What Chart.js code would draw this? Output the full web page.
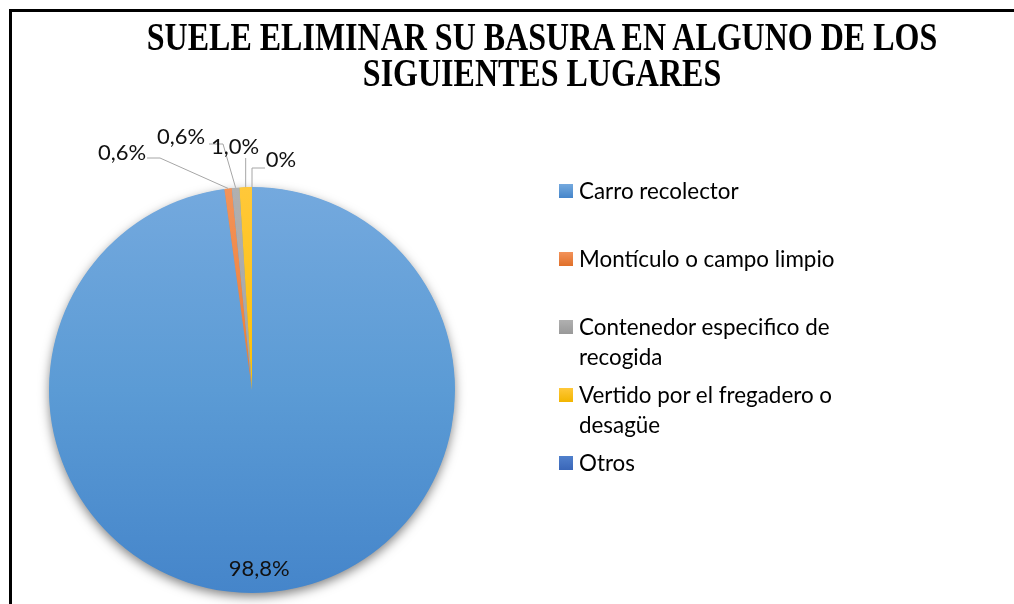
<!DOCTYPE html>
<html>
<head>
<meta charset="utf-8">
<script src="https://cdn.jsdelivr.net/npm/chart.js@4/dist/chart.umd.min.js"></script>
<style>
html,body{margin:0;padding:0;background:#fff;width:1014px;height:604px;overflow:hidden;}
#c{position:absolute;left:0;top:0;}
#frame{position:absolute;left:9px;top:9px;width:1100px;height:700px;border-left:3px solid #000;border-top:3px solid #000;pointer-events:none;}
#title{position:absolute;left:10px;top:18px;width:1064px;text-align:center;font-family:"Liberation Serif","Times New Roman",serif;font-weight:bold;font-size:32px;line-height:36px;color:#000;}
#title div{transform:scaleY(1.25);transform-origin:50% 50%;white-space:nowrap;}
#legend{position:absolute;left:559px;top:176px;font-family:Lato,"Open Sans",sans-serif;font-size:22.4px;color:#000;}
.item{position:relative;height:68px;}
.box{position:absolute;left:0;top:8px;width:14px;height:14px;}
.txt{position:absolute;left:20px;top:0;width:268px;line-height:29.5px;}
</style>
</head>
<body>
<canvas id="c" width="1014" height="604"></canvas>
<div id="title"></div>
<div id="legend"></div>
<div id="frame"></div>
<script>
// ---- data ----
const titleLines = ['SUELE ELIMINAR SU BASURA EN ALGUNO DE LOS', 'SIGUIENTES LUGARES'];
const categories = ['Carro recolector', 'Montículo o campo limpio', 'Contenedor especifico de recogida', 'Vertido por el fregadero o desagüe', 'Otros'];
const percentages = [98.8, 0.6, 0.6, 1.0, 0];

// ---- styles ----
const colorsTop = ['#74a9de', '#f3935a', '#b0b0b0', '#ffc83a', '#5080cc'];
const colorsMid = ['#5b9bd5', '#ed7d31', '#a5a5a5', '#ffc000', '#4472c4'];
const colorsBottom = ['#4585ca', '#e0702a', '#999999', '#f2b500', '#3a66b8'];

function fmt(v){ return v === 0 ? '0%' : v.toFixed(1).replace('.', ',') + '%'; }

// title
const t = document.getElementById('title');
titleLines.forEach(l => { const d = document.createElement('div'); d.textContent = l; t.appendChild(d); });

// legend
const lg = document.getElementById('legend');
categories.forEach((c, i) => {
  const it = document.createElement('div'); it.className = 'item';
  const b = document.createElement('div'); b.className = 'box';
  b.style.background = 'linear-gradient(' + colorsTop[i] + ',' + colorsBottom[i] + ')';
  const tx = document.createElement('div'); tx.className = 'txt'; tx.textContent = c;
  it.appendChild(b); it.appendChild(tx); lg.appendChild(it);
});

function gradFill(ctx){
  const chart = ctx.chart; const a = chart.chartArea; const i = ctx.dataIndex;
  if (!a) return colorsMid[i];
  const g = chart.ctx.createLinearGradient(0, a.top, 0, a.bottom);
  g.addColorStop(0, colorsTop[i]); g.addColorStop(0.5, colorsMid[i]); g.addColorStop(1, colorsBottom[i]);
  return g;
}

const shadowPlugin = {
  id: 'pieShadow',
  beforeDatasetsDraw(chart){
    const arc = chart.getDatasetMeta(0).data[0]; if (!arc) return;
    const p = arc.getProps(['x','y','outerRadius'], true);
    const c = chart.ctx; c.save();
    c.shadowColor = 'rgba(0,0,0,0.5)'; c.shadowBlur = 11; c.shadowOffsetY = 4;
    c.fillStyle = '#5b9bd5';
    c.beginPath(); c.arc(p.x, p.y, p.outerRadius - 0.5, 0, Math.PI * 2); c.fill();
    c.restore();
  }
};

const labelPlugin = {
  id: 'pieLabels',
  afterDatasetsDraw(chart, args, opts){
    const ctx = chart.ctx;
    const meta = chart.getDatasetMeta(0);
    const vals = chart.data.datasets[0].data;
    ctx.save();
    ctx.font = opts.font; ctx.fillStyle = opts.color; ctx.textAlign = 'center'; ctx.textBaseline = 'middle';
    meta.data.forEach((arc, i) => {
      const p = arc.getProps(['x','y','startAngle','endAngle','outerRadius'], true);
      const mid = (p.startAngle + p.endAngle) / 2;
      const R = p.outerRadius;
      const text = fmt(vals[i]);
      const L = opts.layout[i];
      if (L.inside){ ctx.fillText(text, p.x + Math.cos(mid) * R * L.r + L.dx, p.y + Math.sin(mid) * R * L.r); return; }
      const s = R / 203;
      const ax = p.x + Math.cos(mid) * R, ay = p.y + Math.sin(mid) * R;
      const atX = L.attach[0] === null ? ax : p.x + L.attach[0] * s;
      const atY = p.y + L.attach[1] * s;
      const el = L.elbow ? [p.x + L.elbow[0] * s, p.y + L.elbow[1] * s] : [ax, atY];
      ctx.strokeStyle = opts.lineColor; ctx.lineWidth = 1;
      ctx.beginPath(); ctx.moveTo(atX, atY); ctx.lineTo(el[0], el[1]); ctx.lineTo(ax, ay); ctx.stroke();
      ctx.fillText(text, p.x + L.dx * s, p.y + L.dy * s);
    });
    ctx.restore();
  }
};

new Chart(document.getElementById('c'), {
  type: 'pie',
  data: {
    labels: categories,
    datasets: [{
      data: percentages,
      backgroundColor: gradFill,
      borderWidth: 0,
      hoverOffset: 0
    }]
  },
  options: {
    responsive: false,
    animation: false,
    events: [],
    layout: { padding: { left: 49, right: 559, top: 186, bottom: 10 } },
    plugins: {
      legend: { display: false },
      tooltip: { enabled: false },
      title: { display: false },
      pieLabels: {
        font: '22px Lato, "Open Sans", sans-serif',
        color: '#111',
        lineColor: '#a6a6a6',
        layout: [
          { inside: true, r: 0.885, dx: -5 },
          { dx: -130, dy: -237, attach: [-105, -232], elbow: [-92, -232] },
          { dx: -71, dy: -253, attach: [-43, -246], elbow: [-29, -246] },
          { dx: -17, dy: -243, attach: [null, -232], elbow: null },
          { dx: 29, dy: -230, attach: [13, -222], elbow: null }
        ]
      }
    }
  },
  plugins: [shadowPlugin, labelPlugin]
});
</script>
</body>
</html>
